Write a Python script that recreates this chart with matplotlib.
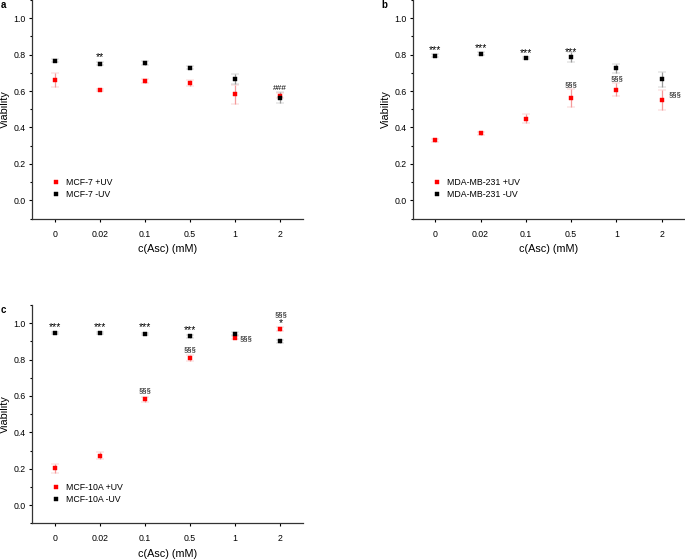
import numpy as np
import matplotlib
matplotlib.use("Agg")
import matplotlib.pyplot as plt
from matplotlib.ticker import MultipleLocator

#%% Data
conc_labels = ["0", "0.02", "0.1", "0.5", "1", "2"]

# a: MCF-7
a_uv      = [0.661, 0.606, 0.655, 0.644, 0.582, 0.575]
a_uv_err  = [0.036, 0.005, 0.013, 0.015, 0.054, 0.015]
a_no      = [0.767, 0.751, 0.754, 0.729, 0.666, 0.564]
a_no_err  = [0.007, 0.006, 0.010, 0.008, 0.028, 0.030]

# b: MDA-MB-231
b_uv      = [0.331, 0.368, 0.448, 0.562, 0.608, 0.551]
b_uv_err  = [0.008, 0.010, 0.025, 0.048, 0.037, 0.055]
b_no      = [0.795, 0.806, 0.780, 0.786, 0.725, 0.665]
b_no_err  = [0.010, 0.006, 0.006, 0.026, 0.024, 0.042]

# c: MCF-10A
c_uv      = [0.202, 0.271, 0.582, 0.809, 0.921, 0.967]
c_uv_err  = [0.023, 0.020, 0.013, 0.015, 0.010, 0.010]
c_no      = [0.947, 0.947, 0.941, 0.927, 0.943, 0.901]
c_no_err  = [0.006, 0.006, 0.006, 0.010, 0.010, 0.008]

# significance marks: (x index, y value, text, horizontal alignment, x shift)
a_marks = [(1, 0.787, "**", "center", 0.0), (5, 0.615, "###", "center", 0.0)]
b_marks = [(0, 0.826, "***", "center", 0.0), (1, 0.834, "***", "center", 0.0),
           (2, 0.806, "***", "center", 0.0), (3, 0.814, "***", "center", 0.0),
           (3, 0.634, "§§§", "center", 0.0), (4, 0.670, "§§§", "center", 0.0),
           (5, 0.579, "§§§", "left", 0.15)]
c_marks = [(0, 0.976, "***", "center", 0.0), (1, 0.976, "***", "center", 0.0),
           (2, 0.976, "***", "center", 0.0), (3, 0.961, "***", "center", 0.0),
           (2, 0.626, "§§§", "center", 0.0), (3, 0.852, "§§§", "center", 0.0),
           (4, 0.912, "§§§", "left", 0.1), (5, 1.048, "§§§", "center", 0.0),
           (5, 1.000, "*", "center", 0.0)]

plt.rcParams['font.family'] = ['Liberation Sans', 'DejaVu Sans']
fs = 6.3


def panel(ax, uv, uv_err, no, no_err, name, marks, letter):
    x = np.arange(len(conc_labels))
    e1 = ax.errorbar(x, uv, yerr=uv_err, fmt='s', color='#ff0000', ecolor='#f59a9a',
                     ms=3.5, mew=0.3, capsize=3, elinewidth=0.9, capthick=0.9)
    e2 = ax.errorbar(x, no, yerr=no_err, fmt='s', color='black', ecolor='#9a9a9a',
                     ms=3.5, mew=0.3, capsize=3, elinewidth=0.9, capthick=0.9)
    for xi, yi, t, ha, dx in marks:
        if t.startswith("§"):
            size = 5.5
        elif t.startswith("#"):
            size = 6
        else:
            size = 7.5
        ax.text(xi + dx, yi, t, ha=ha, va='center', fontsize=size)
    ax.set_xlim(-0.5, 5.5)
    ax.set_ylim(-0.1, 1.1)
    ax.set_xticks(x)
    ax.set_xticklabels(conc_labels)
    ax.yaxis.set_minor_locator(MultipleLocator(0.1))
    ax.set_yticks([0.0, 0.2, 0.4, 0.6, 0.8, 1.0])
    ax.tick_params(axis='both', labelsize=fs, direction='out', length=2.5, width=0.8)
    ax.tick_params(axis='x', pad=5.5)
    ax.tick_params(axis='y', pad=2)
    ax.tick_params(axis='y', which='minor', length=1.5, width=0.8)
    ax.spines['top'].set_visible(False)
    ax.spines['right'].set_visible(False)
    for s in ['left', 'bottom']:
        ax.spines[s].set_color('#333333')
        ax.spines[s].set_linewidth(0.9)
    ax.set_xlabel("c(Asc) (mM)", fontsize=7.8, labelpad=4)
    ax.set_ylabel("Viability", fontsize=7.8, labelpad=2.5)
    ax.legend([e1[0], e2[0]], [f"{name} +UV", f"{name} -UV"],
              loc='lower left', bbox_to_anchor=(0.075, 0.09), frameon=False,
              fontsize=fs, handletextpad=0.8, labelspacing=0.35, handlelength=0.8,
              borderaxespad=0, borderpad=0, markerscale=0.9)
    ax.text(-0.115, 0.978, letter, transform=ax.transAxes, fontsize=7, fontweight='bold',
            ha='left', va='center')


fig = plt.figure(figsize=(6.85, 5.59), dpi=100)
ax_a = fig.add_axes([0.0467, 0.609, 0.3956, 0.391])
ax_b = fig.add_axes([0.6025, 0.609, 0.3965, 0.391])
ax_c = fig.add_axes([0.0467, 0.0639, 0.3956, 0.3905])

panel(ax_a, a_uv, a_uv_err, a_no, a_no_err, "MCF-7", a_marks, "a")
panel(ax_b, b_uv, b_uv_err, b_no, b_no_err, "MDA-MB-231", b_marks, "b")
panel(ax_c, c_uv, c_uv_err, c_no, c_no_err, "MCF-10A", c_marks, "c")

fig.savefig("out.png", dpi=100)
